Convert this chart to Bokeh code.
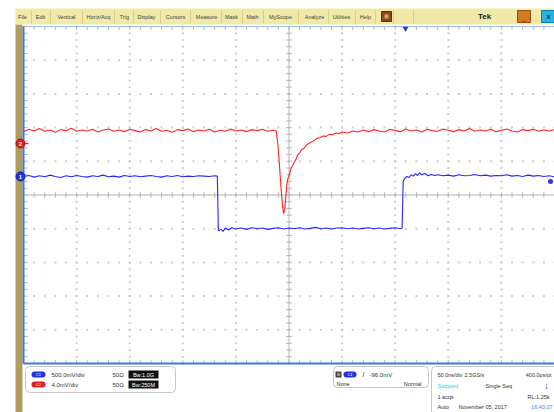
import numpy as np
from bokeh.plotting import figure
from bokeh.models import Range1d
from bokeh.core.properties import value
from bokeh.embed import file_html
from bokeh.resources import INLINE

# ---------------- data (time in ns, amplitude in screen divisions) ----------------
red_t = [-250, -245, -240, -235, -230, -225, -220, -215, -210, -205, -200, -195, -190, -185, -180,
         -175, -170, -165, -160, -155, -150, -145, -140, -135, -130, -125, -120, -115, -110, -105,
         -100, -95, -90, -85, -80, -75, -70, -65, -60, -55, -50, -45, -40, -35, -30, -25, -20, -15,
         -12, -10.5, -9, -7.5, -6, -5, -4, -3, -2, -1, 0.5, 2, 3.5, 5, 6.5, 8, 10, 12, 14, 17, 20,
         23, 26, 29, 32, 35, 38, 41, 44, 47, 50, 55, 60, 65, 70, 75, 80, 85, 90, 95, 100, 105, 110,
         115, 120, 125, 130, 135, 140, 145, 150, 155, 160, 165, 170, 175, 180, 185, 190, 195, 200,
         205, 210, 215, 220, 225, 230, 235, 240, 245, 250]
red_v = [1.88, 1.95, 1.90, 1.97, 1.89, 1.93, 1.86, 1.94, 1.91, 1.98, 1.89, 1.93, 1.90, 1.95, 1.87,
         1.92, 1.96, 1.89, 1.93, 1.88, 1.95, 1.91, 1.87, 1.94, 1.90, 1.97, 1.89, 1.92, 1.86, 1.94,
         1.91, 1.96, 1.88, 1.93, 1.90, 1.95, 1.87, 1.92, 1.89, 1.96, 1.90, 1.93, 1.88, 1.94, 1.91, 1.95, 1.89, 1.92,
         1.90, 1.50, 0.90, 0.20, -0.35, -0.55, -0.42, -0.05, 0.30, 0.50, 0.62, 0.80, 0.88, 0.98, 1.05, 1.18, 1.25, 1.35, 1.38, 1.50, 1.56,
         1.60, 1.68, 1.70, 1.75, 1.74, 1.80, 1.79, 1.84, 1.82, 1.87, 1.84, 1.90, 1.87, 1.93, 1.88, 1.94, 1.90, 1.87, 1.95, 1.91, 1.88, 1.96,
         1.90, 1.93, 1.87, 1.95, 1.91, 1.89, 1.96, 1.92, 1.88, 1.94, 1.90, 1.97, 1.89, 1.93, 1.90, 1.95, 1.88, 1.92,
         1.96, 1.90, 1.87, 1.94, 1.91, 1.95, 1.89, 1.93, 1.90, 1.94]

blue_t = [-250, -245, -240, -235, -230, -225, -220, -215, -210, -205, -200, -195, -190, -185, -180,
          -175, -170, -165, -160, -155, -150, -145, -140, -135, -130, -125, -120, -115, -110, -105,
          -100, -95, -90, -85, -80, -75, -70, -67.5, -66.5, -64, -62, -60, -57, -54, -50, -45, -40,
          -35, -30, -25, -20, -15, -10, -5, 0, 5, 10, 15, 20, 25, 30, 35, 40, 45, 50, 55, 60, 65, 70,
          75, 80, 85, 90, 95, 100, 105, 106.5, 107.5, 109, 111, 113, 115, 117, 119, 121, 123, 125,
          128, 131, 134, 137, 140, 145, 150, 155, 160, 165, 170, 175, 180, 185, 190, 195, 200, 205,
          210, 215, 220, 225, 230, 235, 240, 245, 250]
blue_v = [0.55, 0.58, 0.53, 0.57, 0.54, 0.59, 0.55, 0.52, 0.57, 0.54, 0.58, 0.55, 0.53, 0.57, 0.55,
          0.59, 0.54, 0.56, 0.53, 0.58, 0.55, 0.57, 0.54, 0.56, 0.58, 0.55, 0.53, 0.57, 0.55, 0.58,
          0.54, 0.56, 0.55, 0.57, 0.56, 0.55, 0.57, 0.56, -1.06, -1.02, -1.08, -0.98, -1.04, -0.97, -1.01, -0.98, -1.02,
          -0.97, -1.00, -0.98, -1.02, -0.99, -0.97, -1.01, -0.98, -1.00, -0.97, -1.01, -0.99, -0.96, -1.00, -0.98, -1.01, -0.98, -0.97, -1.00, -0.98, -1.01, -0.99,
          -0.97, -1.00, -0.98, -1.01, -0.99, -0.97, -1.00, -0.98, 0.40, 0.50, 0.55, 0.52, 0.60, 0.56, 0.63, 0.58, 0.66, 0.60,
          0.64, 0.57, 0.61, 0.58, 0.60, 0.57, 0.59, 0.56, 0.60, 0.57, 0.58, 0.61, 0.57, 0.59, 0.56, 0.58, 0.57, 0.60,
          0.56, 0.58, 0.55, 0.59, 0.56, 0.58, 0.55, 0.57, 0.54]

menu_items = ["File", "Edit", "Vertical", "Horiz/Acq", "Trig", "Display", "Cursors", "Measure",
              "Mask", "Math", "MyScope", "Analyze", "Utilities", "Help"]

ch_scales = ["500.0mV/div", "4.0mV/div"]
ch_bw = ["Bw:1.0G", "Bw:250M"]
trig_level = "-96.0mV"
timebase = ["50.0ns/div", "2.5GS/s", "400.0ps/pt"]
acq_info = ["Stopped", "Single Seq", "1 acqs", "RL:1.25k", "Auto", "November 05, 2017", "16:43:07"]

# ---------------- figure ----------------
FONT = value("Liberation Sans")
p = figure(width=554, height=412, x_range=Range1d(-271.66, 250.0), y_range=Range1d(-6.454, 5.7715),
           output_backend="svg", toolbar_location=None, min_border=0,
           x_axis_location=None, y_axis_location=None, outline_line_color=None,
           background_fill_color="white", border_fill_color="white")
p.grid.visible = False
p.extra_x_ranges = {"px": Range1d(0, 554)}
p.extra_y_ranges = {"px": Range1d(412, 0)}
PX = dict(x_range_name="px", y_range_name="px")


def txt(x, y, s, size="6px", color="#333333", align="left", style="normal"):
    p.text(x=[x], y=[y], text=[s], text_font=FONT, text_font_size=size, text_color=color,
           text_align=align, text_baseline="middle", text_font_style=style, **PX)


# side strip and menu bar
p.quad(left=15, right=22, top=24, bottom=412, fill_color="#b19c5c", line_color=None, **PX)
p.quad(left=15, right=554, top=8, bottom=24, fill_color="#f0e9a8", line_color=None, **PX)
centers = [22, 40, 66, 98, 124, 146, 175, 206, 231, 252, 280, 314, 341, 365]
seps = [31, 50, 82, 114, 133, 160, 190, 221, 242, 263, 298, 328, 355, 375, 393, 413]
p.segment(x0=seps, y0=[10] * len(seps), x1=seps, y1=[23] * len(seps), line_color="#d9cf8a", line_width=1, **PX)
for c, m in zip(centers, menu_items):
    txt(c, 16, m, size="5.5px", color="#444444", align="center")
p.quad(left=381, right=391, top=11, bottom=21, fill_color="#8a4a1c", line_color="#5a2e10", **PX)
p.quad(left=384, right=388, top=14, bottom=18, fill_color="#d8a060", line_color=None, **PX)
txt(484, 16, "Tek", size="8px", color="#222222", align="center", style="bold")
p.quad(left=517, right=530, top=10, bottom=22, fill_color="#d07a22", line_color="#a05010", **PX)
txt(523.5, 17, "_", size="7px", color="#333333", align="center")
p.quad(left=541, right=555, top=10, bottom=22, fill_color="#22b4e6", line_color="#1080b0", **PX)
txt(548, 16, "X", size="6px", color="#0a2a50", align="center", style="bold")

# graticule
minor_x = np.arange(-250, 250.1, 10)
minor_y = np.arange(-5, 5.01, 0.2)
major_x = [-200, -150, -100, -50, 50, 100, 150, 200]
major_y = [-4, -3, -2, -1, 1, 2, 3, 4]
dx = np.concatenate([np.full(len(minor_y), mx) for mx in major_x] + [minor_x for _ in major_y])
dy = np.concatenate([minor_y for _ in major_x] + [np.full(len(minor_x), my) for my in major_y])
p.scatter(dx, dy, marker="square", size=2, fill_color="#cdcdcd", line_color=None)
p.segment(x0=[-250, 0], y0=[0, -5], x1=[250, 0], y1=[0, 5], line_color="#b4b4b4", line_width=1)
p.segment(x0=minor_x, y0=-0.08, x1=minor_x, y1=0.08, line_color="#b4b4b4", line_width=1)
p.segment(x0=-2.6, y0=minor_y, x1=2.6, y1=minor_y, line_color="#b4b4b4", line_width=1)
p.segment(x0=minor_x, y0=5, x1=minor_x, y1=4.9, line_color="#a9b9d2", line_width=1)
p.segment(x0=minor_x, y0=-5, x1=minor_x, y1=-4.9, line_color="#a9b9d2", line_width=1)
p.segment(x0=-250, y0=minor_y, x1=-246, y1=minor_y, line_color="#a9b9d2", line_width=1)
p.segment(x0=[-250], y0=[5], x1=[250], y1=[5], line_color="#9cb8e6", line_width=1)
p.segment(x0=[-250, -250], y0=[-5, -5], x1=[-250, 250], y1=[5, -5], line_color="#3f7bd6", line_width=2)

# traces
p.line(red_t, red_v, line_color="#ff2424", line_width=1.1)
p.line(blue_t, blue_v, line_color="#2626ff", line_width=1.1)

# channel / trigger markers
p.segment(x0=[24], y0=[143], x1=[28], y1=[143], line_color="#ff2424", line_width=1.5, **PX)
p.scatter(x=[20], y=[143], marker="circle", size=9, fill_color="#e81c1c", line_color="#b01010", **PX)
txt(20, 143.5, "2", size="6px", color="white", align="center", style="bold")
p.scatter(x=[20], y=[176], marker="circle", size=9, fill_color="#1e32e6", line_color="#1020a0", **PX)
txt(20, 176.5, "1", size="6px", color="white", align="center", style="bold")
p.scatter(x=[405], y=[28], marker="inverted_triangle", size=6, fill_color="#2040e0", line_color=None, **PX)
p.scatter(x=[550], y=[181], marker="circle", size=5, fill_color="#2040e0", line_color=None, **PX)

# readout boxes
p.quad(left=25, right=175, top=366, bottom=392, fill_color="white", line_color="#c8c8c8",
       border_radius=4, **PX)
p.quad(left=333, right=428, top=366, bottom=387, fill_color="white", line_color="#c8c8c8",
       border_radius=4, **PX)
p.quad(left=431, right=560, top=366, bottom=420, fill_color="white", line_color="#c8c8c8",
       border_radius=4, **PX)

for i, (col, ycen) in enumerate([("#2233dd", 374), ("#e02020", 384)]):
    p.quad(left=31, right=45, top=ycen - 3, bottom=ycen + 3, fill_color=col, line_color=None,
           border_radius=3, **PX)
    txt(38, ycen, "C%d" % (i + 1), size="4px", color="white", align="center")
    txt(51, ycen, ch_scales[i])
    txt(112, ycen, "50Ω")
    p.quad(left=128, right=158, top=ycen - 4, bottom=ycen + 4, fill_color="#111111", line_color=None, **PX)
    txt(143, ycen, ch_bw[i], size="5.5px", color="white", align="center")

p.quad(left=335, right=341, top=371, bottom=377, fill_color="#444444", line_color=None, **PX)
txt(338, 374, "B", size="4px", color="white", align="center")
p.quad(left=343, right=356, top=371, bottom=377, fill_color="#2233dd", line_color=None, border_radius=3, **PX)
txt(349.5, 374, "C1", size="4px", color="white", align="center")
txt(363, 374, "/", size="7px", color="#222222", align="center")
txt(369, 374, trig_level)
txt(336, 383, "None", size="5.5px")
txt(421, 383, "Normal", size="5.5px", align="right")

txt(437, 374, timebase[0], size="5.5px")
txt(464, 374, timebase[1], size="5.5px")
txt(551, 374, timebase[2], size="5.5px", align="right")
txt(437, 385, acq_info[0], size="5.5px", color="#18d0f0")
txt(485, 385, acq_info[1], size="5.5px")
txt(546, 385, "↓", size="9px", color="#2030e0", align="center", style="bold")
txt(437, 396, acq_info[2], size="5.5px")
txt(549, 396, acq_info[3], size="5.5px", align="right")
txt(437, 406, acq_info[4], size="5.5px")
txt(458, 406, acq_info[5], size="5.5px")
txt(552, 406, acq_info[6], size="5.5px", color="#2a8cf0", align="right")

open("out.html", "w").write(file_html(p, INLINE))
